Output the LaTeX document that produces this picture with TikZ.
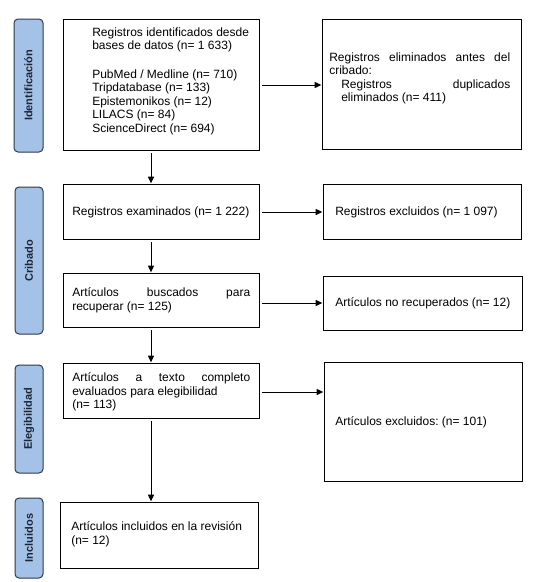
\documentclass[tikz,border=0pt]{standalone}
\usepackage{fontspec}
\setmainfont{Liberation Sans}
\usetikzlibrary{arrows.meta,fit}
\setlength\parindent{0pt}
\frenchspacing
\definecolor{lblfill}{HTML}{A4C2E8}
\definecolor{lbldraw}{HTML}{2E3A48}
\definecolor{lbltext}{HTML}{1E2633}
\begin{document}
\begin{tikzpicture}[x=0.75pt,y=-0.75pt,
  font=\fontsize{9}{10.125}\selectfont\frenchspacing,
  box/.style={draw, line width=0.75pt, inner sep=0pt, outer sep=0pt},
  phase/.style={draw=lbldraw, fill=lblfill, rounded corners=3pt, line width=0.75pt, inner sep=0pt},
  phasetext/.style={rotate=90, inner sep=0pt, text=lbltext, font=\fontsize{8.25}{10}\selectfont\bfseries},
  txt/.style={inner sep=0pt, anchor=north west, align=left},
  jtxt/.style={inner sep=0pt, anchor=north west, align=justify},
  ltxt/.style={inner sep=0pt, anchor=west},
  arr/.style={-{Triangle[length=5pt,width=4.5pt]}, line width=0.75pt, shorten <=2.5pt, shorten >=0.5pt}]
\useasboundingbox (0,0) rectangle (551,582);

% phase labels
\node[phase, fit={(14,19) (43,152)}] (p1) {};
\node[phasetext] (l1) at (p1) {Identificación};
\node[phase, fit={(15,187) (43,334)}] (p2) {};
\node[phasetext] (l2) at (p2) {Cribado};
\node[phase, fit={(15,365) (43,473)}] (p3) {};
\node[phasetext] (l3) at (p3) {Elegibilidad};
\node[phase, fit={(15,498) (43,578)}] (p4) {};
\node[phasetext] (l4) at (p4) {Incluidos};

% boxes
\node[box, fit={(63,19) (259,150)}] (b1) {};
\node[box, fit={(322,19) (521,149)}] (b2) {};
\node[box, fit={(63,184) (259,239)}] (b3) {};
\node[box, fit={(323,184) (521,239)}] (b4) {};
\node[box, fit={(63,273) (259,327)}] (b5) {};
\node[box, fit={(323,276) (522,330)}] (b6) {};
\node[box, fit={(63,363) (259,418)}] (b7) {};
\node[box, fit={(324,362) (522,481)}] (b8) {};
\node[box, fit={(60,502) (258,568)}] (b9) {};

% texts
\node[txt] (t1) at (92,27.5) {Registros identificados desde\\bases de datos (n= 1 633)\\[11pt]PubMed / Medline (n= 710)\\Tripdatabase (n= 133)\\Epistemonikos (n= 12)\\LILACS (n= 84)\\ScienceDirect (n= 694)};
\node[jtxt, text width=135.75pt] (t2) at (329,52.5) {Registros eliminados antes del\linebreak cribado:\par{\leftskip=9pt Registros duplicados\linebreak eliminados (n= 411)\par}};
\node[ltxt] (t3) at (72,212) {Registros examinados (n= 1 222)};
\node[ltxt] (t4) at (335,212) {Registros excluidos (n= 1 097)};
\node[jtxt, text width=133.5pt] (t5) at (72,287.5) {Artículos buscados para\linebreak recuperar (n= 125)};
\node[ltxt] (t6) at (335,303) {Artículos no recuperados (n= 12)};
\node[jtxt, text width=133.5pt] (t7) at (72,372.5) {Artículos a texto completo\linebreak evaluados para elegibilidad\\(n= 113)};
\node[ltxt] (t8) at (335,422) {Artículos excluidos: (n= 101)};
\node[txt] (t9) at (71,521.5) {Artículos incluidos en la revisión\\(n= 12)};

% connectors
\coordinate (ax) at (151,0);
\draw[arr] (b1.south -| ax) -- (b3.north -| ax);
\draw[arr] (b3.south -| ax) -- (b5.north -| ax);
\draw[arr] (b5.south -| ax) -- (b7.north -| ax);
\draw[arr] (b7.south -| ax) -- (b9.north -| ax);
\coordinate (h1) at (0,85);
\coordinate (h2) at (0,212);
\coordinate (h3) at (0,303);
\coordinate (h4) at (0,392);
\draw[arr] (b1.east |- h1) -- (b2.west |- h1);
\draw[arr] (b3.east |- h2) -- (b4.west |- h2);
\draw[arr] (b5.east |- h3) -- (b6.west |- h3);
\draw[arr] (b7.east |- h4) -- (b8.west |- h4);
\end{tikzpicture}
\end{document}
